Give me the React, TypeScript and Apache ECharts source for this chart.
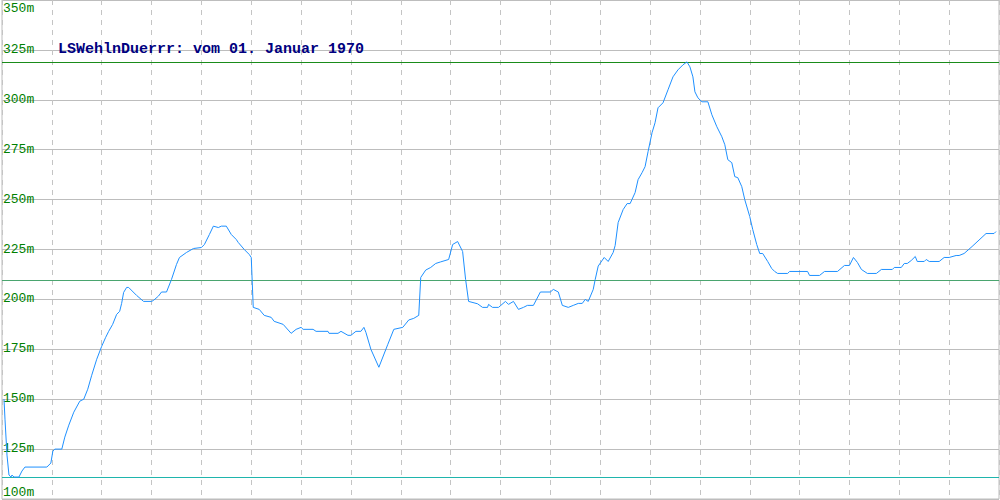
import React, { useEffect, useRef } from "react";
import * as echarts from "echarts";

// Profile samples: horizontal position along the track (0..1000) and elevation in metres
const positions: number[] = [
  2, 3, 5, 7, 9, 10, 12, 17, 20, 23, 45, 49, 51, 53, 60, 63, 67, 72, 78, 82, 86, 90, 95, 100, 104, 107, 111, 115, 118, 120,
  122, 125, 127, 135, 142, 150, 152, 157, 160, 165, 170, 175, 178, 185, 192, 200, 203, 208, 212, 217, 220, 225, 230, 235,
  237, 243, 248, 250, 252, 258, 263, 270, 273, 282, 290, 295, 300, 302, 312, 315, 327, 328, 337, 340, 347, 350, 355, 360,
  363, 365, 370, 378, 387, 393, 402, 408, 413, 418, 420, 425, 430, 435, 440, 448, 452, 457, 462, 465, 468, 477, 482, 487,
  488, 492, 498, 505, 508, 513, 518, 523, 527, 533, 540, 550, 553, 558, 562, 568, 573, 578, 582, 585, 588, 593, 595, 598,
  604, 608, 613, 615, 618, 623, 627, 630, 635, 638, 642, 645, 648, 652, 655, 658, 663, 668, 673, 678, 683, 687, 690, 693,
  695, 698, 702, 708, 712, 717, 722, 725, 728, 732, 735, 738, 742, 745, 750, 753, 757, 760, 763, 768, 772, 775, 778, 788,
  790, 808, 810, 820, 825, 838, 845, 850, 854, 858, 862, 868, 877, 882, 893, 895, 902, 905, 908, 912, 916, 918, 925, 927,
  930, 940, 945, 950, 957, 960, 965, 973, 987, 995, 997,
];

const elevations: number[] = [
  150, 140, 122, 112, 111, 112, 111, 111, 114, 116, 116, 118, 124, 125, 125, 131, 137, 143.5, 149, 150, 155, 162, 170, 176.5,
  181, 184, 187.5, 192.5, 194, 198, 203.5, 206, 206, 202, 199, 199, 199.5, 201.7, 203.7, 203.7, 210, 217.5, 221, 223.5,
  225.5, 226, 227.5, 232.5, 236.7, 236, 236.7, 236.7, 232.5, 230, 228.5, 225, 222.5, 221, 196, 195, 192, 191, 189, 187.5,
  183, 185, 186, 185, 185, 184, 184, 183, 183, 184, 182, 182, 184, 184, 186, 183.5, 175, 166, 177.5, 185, 186, 189.7, 190.5,
  192, 211, 214.7, 216, 218, 218.8, 220, 227.5, 229, 224, 210, 199, 197.8, 196, 196, 197.5, 196, 196, 199, 197.5, 199, 195,
  196, 197, 197, 203.7, 203.7, 205, 203.7, 197, 196, 197, 198, 198, 200, 199, 205, 210, 216.7, 221, 219, 223.5, 227, 238.5,
  245, 248, 248, 253.5, 260, 263.5, 266.5, 274, 283.5, 288.5, 296, 298.5, 305, 311.5, 315, 317.5, 319, 316.5, 311.5, 304,
  301, 299, 299, 292.5, 286.5, 281.5, 277.5, 270, 268.5, 261.5, 261, 256.5, 250, 241.5, 235, 227.5, 223, 223, 219, 215.5,
  214, 213, 213, 214, 214, 212, 212, 214, 214, 217, 217, 221, 218.5, 215, 213, 213, 215, 215, 216, 216, 218, 218, 219.5,
  221.5, 219, 219, 220, 219, 219, 221, 221, 222, 222, 223, 226.5, 233, 233, 234,
];

const referenceLevel = 209.5;
const titleText = "LSWehlnDuerrr: vom 01. Januar 1970";
const yMin = 100;
const yMax = 350;
const yStep = 25;

const labelFont = {
  color: "#008000",
  fontFamily: "Liberation Mono",
  fontSize: 13,
};

export default function App() {
  const ref = useRef<HTMLDivElement>(null);

  useEffect(() => {
    if (!ref.current) return;
    const chart = echarts.init(ref.current, undefined, { renderer: "svg" });
    const data = positions.map((p, i) => [p, elevations[i]]);
    const maxElev = Math.max(...elevations);
    const minElev = Math.min(...elevations);
    chart.setOption({
      animation: false,
      backgroundColor: "#ffffff",
      title: {
        text: titleText,
        left: 58,
        top: 42,
        padding: 0,
        textStyle: {
          fontFamily: "Liberation Mono",
          fontSize: 15,
          fontWeight: "bold",
          color: "#000080",
        },
      },
      grid: {
        left: 1,
        right: 1,
        top: 0,
        bottom: 1,
        show: true,
        borderColor: "#bdbdbd",
        borderWidth: 1,
        backgroundColor: "transparent",
      },
      xAxis: {
        type: "value",
        min: 0,
        max: 1000,
        interval: 50,
        axisLine: { show: false },
        axisTick: { show: false },
        axisLabel: { show: false },
        splitLine: {
          show: true,
          lineStyle: { color: "#c4c4c4", type: [5, 5], width: 1 },
        },
      },
      yAxis: {
        type: "value",
        min: yMin,
        max: yMax,
        interval: yStep,
        axisLine: { show: false },
        axisTick: { show: false },
        axisLabel: {
          inside: true,
          margin: 1,
          ...labelFont,
          verticalAlign: "middle",
          verticalAlignMinLabel: "bottom",
          verticalAlignMaxLabel: "top",
          formatter: (v: number) =>
            v === yMin ? `{lo|${v}m}` : v === yMax ? `{hi|${v}m}` : `{m|${v}m}`,
          rich: {
            m: { ...labelFont, padding: [0, 0, 1, 0] },
            lo: { ...labelFont, padding: [0, 0, 0, 0] },
            hi: { ...labelFont, padding: [2, 0, 0, 0] },
          },
        },
        splitLine: {
          show: true,
          lineStyle: { color: "#bdbdbd", width: 1 },
        },
      },
      series: [
        {
          type: "line",
          data,
          showSymbol: false,
          symbol: "none",
          lineStyle: { color: "#1e90ff", width: 1 },
          itemStyle: { color: "#1e90ff" },
          z: 3,
          markLine: {
            silent: true,
            symbol: "none",
            label: { show: false },
            z: 2,
            lineStyle: { type: "solid", width: 1 },
            data: [
              { yAxis: maxElev, lineStyle: { color: "#1a8c1a", type: "solid", width: 1 } },
              { yAxis: referenceLevel, lineStyle: { color: "#4aa56f", type: "solid", width: 1 } },
              { yAxis: minElev, lineStyle: { color: "#1fb5ad", type: "solid", width: 1 } },
            ],
          },
        },
      ],
    });
    return () => chart.dispose();
  }, []);

  return (
    <div
      ref={ref}
      style={{ position: "fixed", left: 0, top: 0, width: 1000, height: 500 }}
    />
  );
}
